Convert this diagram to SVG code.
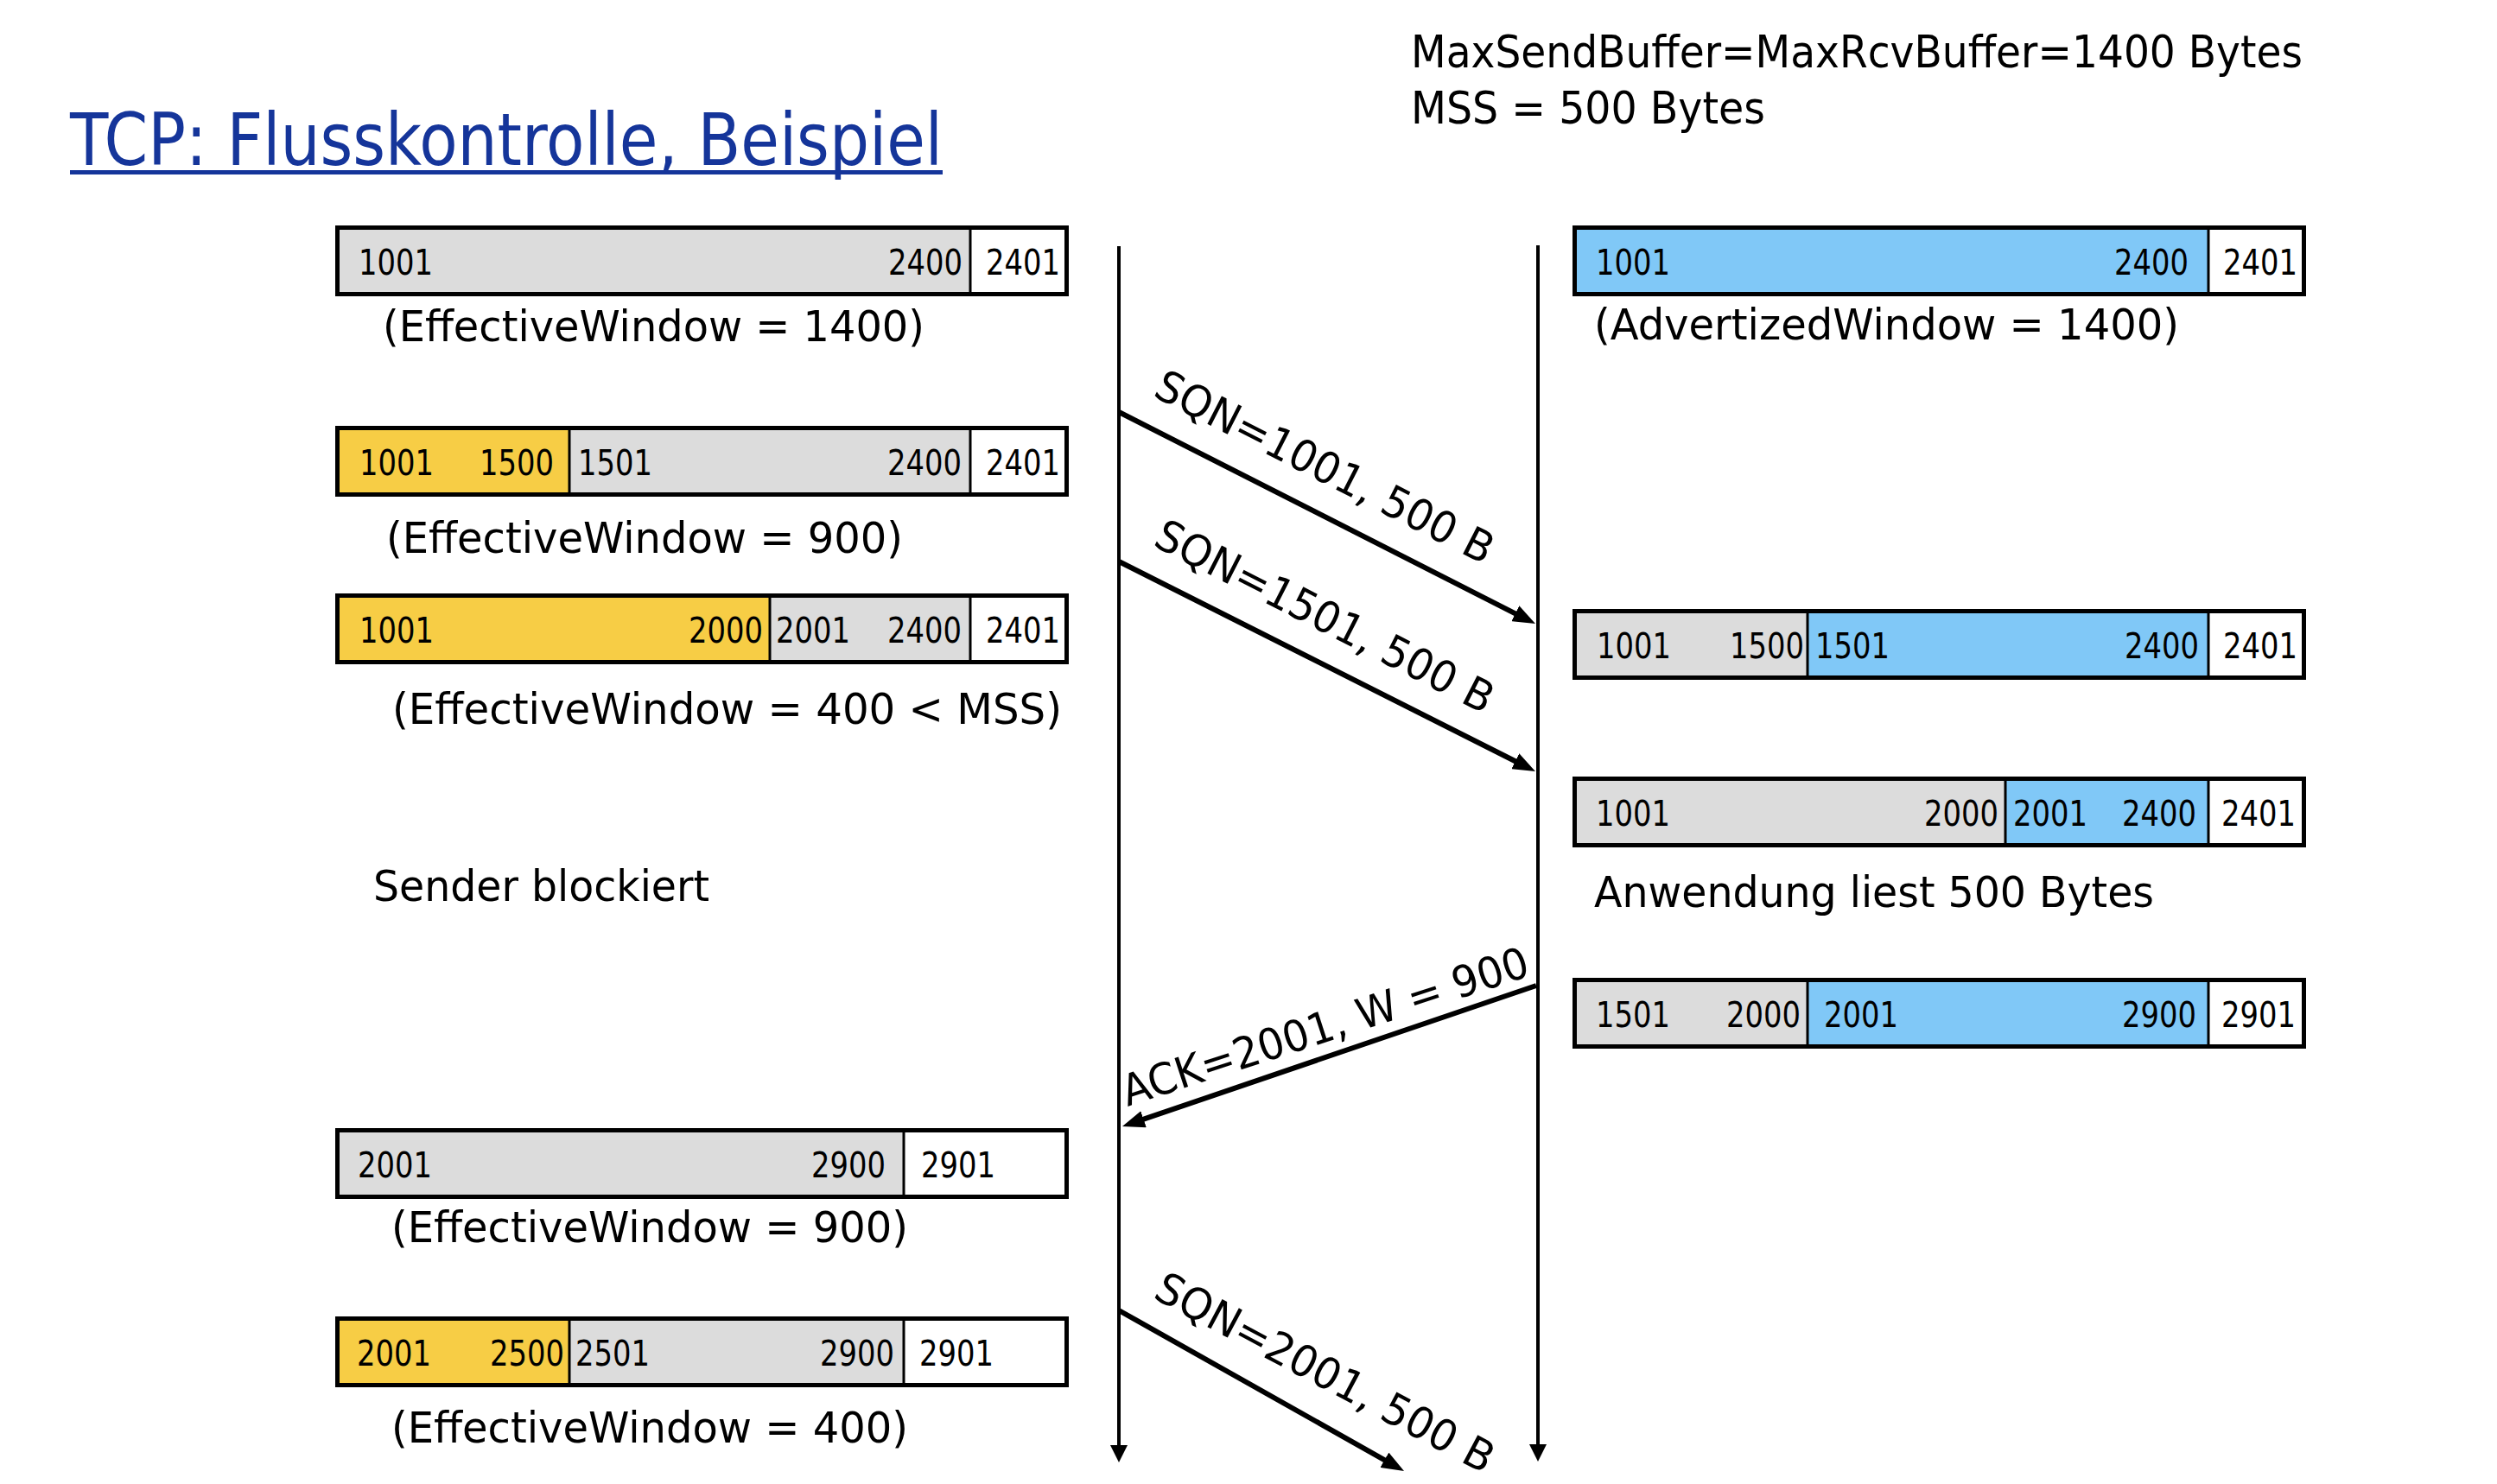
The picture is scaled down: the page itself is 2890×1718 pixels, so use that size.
<svg xmlns="http://www.w3.org/2000/svg" width="2890" height="1718" viewBox="0 0 2890 1718">
<defs>
<style>
.t{font-family:"DejaVu Sans Condensed","DejaVu Sans",sans-serif;fill:#000}
.n{font-size:41px}
.l{font-size:50px}
.h{font-size:52px}
.title{font-size:84px;fill:#15359a}
.box{fill:none;stroke:#000;stroke-width:5}
.div{stroke:#000;stroke-width:3}
.g{fill:#dcdcdc}.y{fill:#f7cd45}.b{fill:#80c8f7}.w{fill:#fff}
.ln{stroke:#000;stroke-width:4;fill:none}
.ar{stroke:#000;stroke-width:6;fill:none}
</style>
<marker id="ah" viewBox="0 0 26 20" refX="10" refY="10" markerWidth="26" markerHeight="20" markerUnits="userSpaceOnUse" orient="auto"><path d="M0,0 L26,10 L0,20 z" fill="#000"/></marker>
<marker id="vh" viewBox="0 0 20 20" refX="8" refY="10" markerWidth="20" markerHeight="20" markerUnits="userSpaceOnUse" orient="auto"><path d="M0,0 L20,10 L0,20 z" fill="#000"/></marker>
</defs>
<rect width="2890" height="1718" fill="#fff"/>

<g id="title">
<text class="t title" x="81" y="191" textLength="1010" lengthAdjust="spacingAndGlyphs">TCP: Flusskontrolle, Beispiel</text>
<rect x="81" y="197" width="1010" height="5" fill="#15359a"/>
</g>

<g id="params">
<text class="t h" x="1633" y="78" textLength="1032" lengthAdjust="spacingAndGlyphs">MaxSendBuffer=MaxRcvBuffer=1400 Bytes</text>
<text class="t h" x="1633" y="143" textLength="410" lengthAdjust="spacingAndGlyphs">MSS = 500 Bytes</text>
</g>

<g id="sbuf1">
<rect class="g" x="390.5" y="263.5" width="732.5" height="77"/>
<rect class="w" x="1123" y="263.5" width="111.5" height="77"/>
<line class="div" x1="1123" y1="263.5" x2="1123" y2="340.5"/>
<rect class="box" x="390.5" y="263.5" width="844" height="77"/>
<text class="t n" x="415" y="318" textLength="86" lengthAdjust="spacingAndGlyphs">1001</text>
<text class="t n" x="1028" y="318" textLength="86" lengthAdjust="spacingAndGlyphs">2400</text>
<text class="t n" x="1141" y="318" textLength="86" lengthAdjust="spacingAndGlyphs">2401</text>
<text class="t l" x="443" y="395" textLength="627" lengthAdjust="spacingAndGlyphs">(EffectiveWindow = 1400)</text>
</g>

<g id="sbuf2">
<rect class="y" x="390.5" y="495.5" width="268.5" height="77"/>
<rect class="g" x="659" y="495.5" width="464" height="77"/>
<rect class="w" x="1123" y="495.5" width="111.5" height="77"/>
<line class="div" x1="659" y1="495.5" x2="659" y2="572.5"/>
<line class="div" x1="1123" y1="495.5" x2="1123" y2="572.5"/>
<rect class="box" x="390.5" y="495.5" width="844" height="77"/>
<text class="t n" x="416" y="550" textLength="86" lengthAdjust="spacingAndGlyphs">1001</text>
<text class="t n" x="555" y="550" textLength="86" lengthAdjust="spacingAndGlyphs">1500</text>
<text class="t n" x="669" y="550" textLength="86" lengthAdjust="spacingAndGlyphs">1501</text>
<text class="t n" x="1027" y="550" textLength="86" lengthAdjust="spacingAndGlyphs">2400</text>
<text class="t n" x="1141" y="550" textLength="86" lengthAdjust="spacingAndGlyphs">2401</text>
<text class="t l" x="447" y="640" textLength="598" lengthAdjust="spacingAndGlyphs">(EffectiveWindow = 900)</text>
</g>

<g id="sbuf3">
<rect class="y" x="390.5" y="689.5" width="500.5" height="77"/>
<rect class="g" x="891" y="689.5" width="232" height="77"/>
<rect class="w" x="1123" y="689.5" width="111.5" height="77"/>
<line class="div" x1="891" y1="689.5" x2="891" y2="766.5"/>
<line class="div" x1="1123" y1="689.5" x2="1123" y2="766.5"/>
<rect class="box" x="390.5" y="689.5" width="844" height="77"/>
<text class="t n" x="416" y="744" textLength="86" lengthAdjust="spacingAndGlyphs">1001</text>
<text class="t n" x="797" y="744" textLength="86" lengthAdjust="spacingAndGlyphs">2000</text>
<text class="t n" x="898" y="744" textLength="86" lengthAdjust="spacingAndGlyphs">2001</text>
<text class="t n" x="1027" y="744" textLength="86" lengthAdjust="spacingAndGlyphs">2400</text>
<text class="t n" x="1141" y="744" textLength="86" lengthAdjust="spacingAndGlyphs">2401</text>
<text class="t l" x="454" y="838" textLength="775" lengthAdjust="spacingAndGlyphs">(EffectiveWindow = 400 &lt; MSS)</text>
</g>

<g id="blocked">
<text class="t l" x="432" y="1043" textLength="389" lengthAdjust="spacingAndGlyphs">Sender blockiert</text>
</g>

<g id="sbuf4">
<rect class="g" x="390.5" y="1308.5" width="655.5" height="77"/>
<rect class="w" x="1046" y="1308.5" width="188.5" height="77"/>
<line class="div" x1="1046" y1="1308.5" x2="1046" y2="1385.5"/>
<rect class="box" x="390.5" y="1308.5" width="844" height="77"/>
<text class="t n" x="414" y="1363" textLength="86" lengthAdjust="spacingAndGlyphs">2001</text>
<text class="t n" x="939" y="1363" textLength="86" lengthAdjust="spacingAndGlyphs">2900</text>
<text class="t n" x="1066" y="1363" textLength="86" lengthAdjust="spacingAndGlyphs">2901</text>
<text class="t l" x="453" y="1438" textLength="598" lengthAdjust="spacingAndGlyphs">(EffectiveWindow = 900)</text>
</g>

<g id="sbuf5">
<rect class="y" x="390.5" y="1526.5" width="268.5" height="77"/>
<rect class="g" x="659" y="1526.5" width="387" height="77"/>
<rect class="w" x="1046" y="1526.5" width="188.5" height="77"/>
<line class="div" x1="659" y1="1526.5" x2="659" y2="1603.5"/>
<line class="div" x1="1046" y1="1526.5" x2="1046" y2="1603.5"/>
<rect class="box" x="390.5" y="1526.5" width="844" height="77"/>
<text class="t n" x="413" y="1581" textLength="86" lengthAdjust="spacingAndGlyphs">2001</text>
<text class="t n" x="567" y="1581" textLength="86" lengthAdjust="spacingAndGlyphs">2500</text>
<text class="t n" x="666" y="1581" textLength="86" lengthAdjust="spacingAndGlyphs">2501</text>
<text class="t n" x="949" y="1581" textLength="86" lengthAdjust="spacingAndGlyphs">2900</text>
<text class="t n" x="1064" y="1581" textLength="86" lengthAdjust="spacingAndGlyphs">2901</text>
<text class="t l" x="453" y="1670" textLength="598" lengthAdjust="spacingAndGlyphs">(EffectiveWindow = 400)</text>
</g>

<g id="rbuf1">
<rect class="b" x="1822.5" y="263.5" width="733.5" height="77"/>
<rect class="w" x="2556" y="263.5" width="110.5" height="77"/>
<line class="div" x1="2556" y1="263.5" x2="2556" y2="340.5"/>
<rect class="box" x="1822.5" y="263.5" width="844" height="77"/>
<text class="t n" x="1847" y="318" textLength="86" lengthAdjust="spacingAndGlyphs">1001</text>
<text class="t n" x="2447" y="318" textLength="86" lengthAdjust="spacingAndGlyphs">2400</text>
<text class="t n" x="2573" y="318" textLength="86" lengthAdjust="spacingAndGlyphs">2401</text>
<text class="t l" x="1845" y="393" textLength="677" lengthAdjust="spacingAndGlyphs">(AdvertizedWindow = 1400)</text>
</g>

<g id="rbuf2">
<rect class="g" x="1822.5" y="707.5" width="269.5" height="77"/>
<rect class="b" x="2092" y="707.5" width="464" height="77"/>
<rect class="w" x="2556" y="707.5" width="110.5" height="77"/>
<line class="div" x1="2092" y1="707.5" x2="2092" y2="784.5"/>
<line class="div" x1="2556" y1="707.5" x2="2556" y2="784.5"/>
<rect class="box" x="1822.5" y="707.5" width="844" height="77"/>
<text class="t n" x="1848" y="762" textLength="86" lengthAdjust="spacingAndGlyphs">1001</text>
<text class="t n" x="2002" y="762" textLength="86" lengthAdjust="spacingAndGlyphs">1500</text>
<text class="t n" x="2101" y="762" textLength="86" lengthAdjust="spacingAndGlyphs">1501</text>
<text class="t n" x="2459" y="762" textLength="86" lengthAdjust="spacingAndGlyphs">2400</text>
<text class="t n" x="2573" y="762" textLength="86" lengthAdjust="spacingAndGlyphs">2401</text>
</g>

<g id="rbuf3">
<rect class="g" x="1822.5" y="901.5" width="498.5" height="77"/>
<rect class="b" x="2321" y="901.5" width="235" height="77"/>
<rect class="w" x="2556" y="901.5" width="110.5" height="77"/>
<line class="div" x1="2321" y1="901.5" x2="2321" y2="978.5"/>
<line class="div" x1="2556" y1="901.5" x2="2556" y2="978.5"/>
<rect class="box" x="1822.5" y="901.5" width="844" height="77"/>
<text class="t n" x="1847" y="956" textLength="86" lengthAdjust="spacingAndGlyphs">1001</text>
<text class="t n" x="2227" y="956" textLength="86" lengthAdjust="spacingAndGlyphs">2000</text>
<text class="t n" x="2330" y="956" textLength="86" lengthAdjust="spacingAndGlyphs">2001</text>
<text class="t n" x="2456" y="956" textLength="86" lengthAdjust="spacingAndGlyphs">2400</text>
<text class="t n" x="2571" y="956" textLength="86" lengthAdjust="spacingAndGlyphs">2401</text>
</g>

<g id="appread">
<text class="t l" x="1845" y="1050" textLength="648" lengthAdjust="spacingAndGlyphs">Anwendung liest 500 Bytes</text>
</g>

<g id="rbuf4">
<rect class="g" x="1822.5" y="1134.5" width="269.5" height="77"/>
<rect class="b" x="2092" y="1134.5" width="464" height="77"/>
<rect class="w" x="2556" y="1134.5" width="110.5" height="77"/>
<line class="div" x1="2092" y1="1134.5" x2="2092" y2="1211.5"/>
<line class="div" x1="2556" y1="1134.5" x2="2556" y2="1211.5"/>
<rect class="box" x="1822.5" y="1134.5" width="844" height="77"/>
<text class="t n" x="1847" y="1189" textLength="86" lengthAdjust="spacingAndGlyphs">1501</text>
<text class="t n" x="1998" y="1189" textLength="86" lengthAdjust="spacingAndGlyphs">2000</text>
<text class="t n" x="2111" y="1189" textLength="86" lengthAdjust="spacingAndGlyphs">2001</text>
<text class="t n" x="2456" y="1189" textLength="86" lengthAdjust="spacingAndGlyphs">2900</text>
<text class="t n" x="2571" y="1189" textLength="86" lengthAdjust="spacingAndGlyphs">2901</text>
</g>

<g id="connectors">
<line class="ln" x1="1295" y1="285" x2="1295" y2="1681" marker-end="url(#vh)"/>
<line class="ln" x1="1780" y1="284" x2="1780" y2="1680" marker-end="url(#vh)"/>
<line class="ar" x1="1295" y1="477" x2="1762.7" y2="714.8" marker-end="url(#ah)"/>
<line class="ar" x1="1295" y1="650" x2="1762.7" y2="885.8" marker-end="url(#ah)"/>
<line class="ar" x1="1778" y1="1141" x2="1314.1" y2="1298.9" marker-end="url(#ah)"/>
<line class="ar" x1="1295" y1="1517" x2="1611.1" y2="1695.1" marker-end="url(#ah)"/>
<text class="t l" transform="translate(1333,458) rotate(27)" textLength="432" lengthAdjust="spacingAndGlyphs">SQN=1001, 500 B</text>
<text class="t l" transform="translate(1333,631) rotate(27)" textLength="432" lengthAdjust="spacingAndGlyphs">SQN=1501, 500 B</text>
<text class="t l" transform="translate(1305,1281) rotate(-18)" textLength="492" lengthAdjust="spacingAndGlyphs">ACK=2001, W = 900</text>
<text class="t l" transform="translate(1333,1502) rotate(28)" textLength="436" lengthAdjust="spacingAndGlyphs">SQN=2001, 500 B</text>
</g>
</svg>
